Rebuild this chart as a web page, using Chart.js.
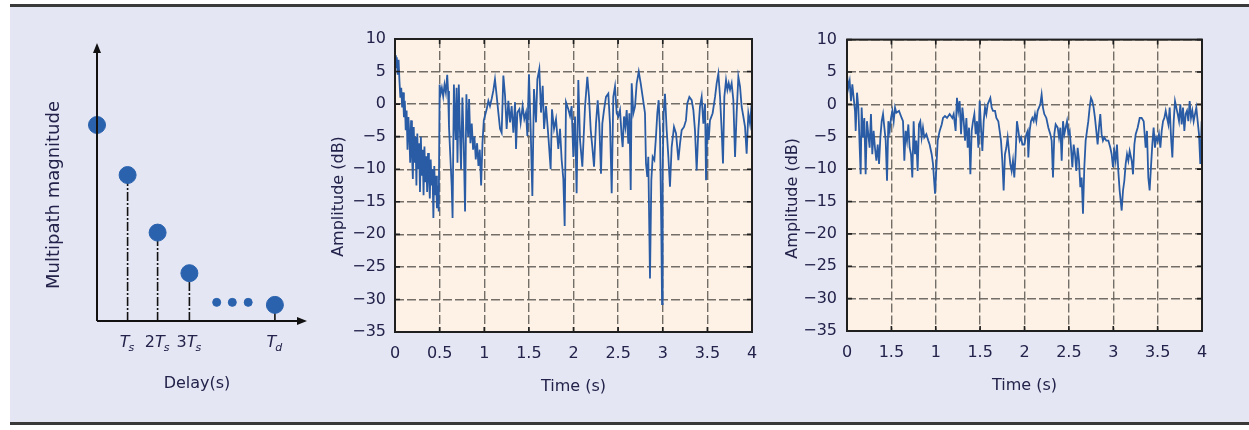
<!DOCTYPE html>
<html><head><meta charset="utf-8">
<script src="https://cdn.jsdelivr.net/npm/chart.js@4.4.0/dist/chart.umd.min.js"></script>
<style>
html,body{margin:0;padding:0;background:#fff;width:1249px;height:430px;overflow:hidden;}
#panel{position:absolute;left:10px;top:7px;width:1239px;height:415px;background:#E4E6F3;}
#topline{position:absolute;left:10px;top:4px;width:1239px;height:3px;background:#3a3a3a;}
#botline{position:absolute;left:10px;top:422px;width:1239px;height:3px;background:#3a3a3a;}
.box{position:absolute;}
</style></head><body>
<div id="topline"></div><div id="panel"></div><div id="botline"></div>
<div class="box" style="left:0;top:0;width:320px;height:430px"><canvas id="c0"></canvas></div>
<div class="box" style="left:320px;top:20px;width:440px;height:380px"><canvas id="c1"></canvas></div>
<div class="box" style="left:770px;top:20px;width:460px;height:380px"><canvas id="c2"></canvas></div>
<script>
// ---------- Left panel: multipath delay profile ----------
const delayPos = [0, 1.02, 2.02, 3.08, 5.93];
const delayMag = [7.05, 5.25, 3.18, 1.72, 0.58];
const delayTickText = [null, ['', 'T', 's'], ['2', 'T', 's'], ['3', 'T', 's'], ['', 'T', 'd']];
const ellipsisPos = [3.99, 4.51, 5.04];
const ellipsisMag = [0.67, 0.67, 0.67];

// ---------- Middle panel ----------
const midTime = [0.000,0.010,0.020,0.030,0.040,0.050,0.060,0.070,0.080,0.090,0.100,0.110,0.120,0.130,0.140,0.150,0.160,0.170,0.180,0.190,0.200,0.210,0.220,0.230,0.240,0.250,0.260,0.270,0.280,0.290,0.300,0.310,0.320,0.330,0.340,0.350,0.360,0.370,0.380,0.390,0.400,0.410,0.420,0.430,0.440,0.450,0.460,0.470,0.480,0.490,0.500,0.510,0.525,0.540,0.555,0.570,0.585,0.595,0.605,0.620,0.635,0.645,0.660,0.670,0.680,0.690,0.700,0.715,0.725,0.740,0.755,0.770,0.785,0.800,0.810,0.820,0.830,0.845,0.860,0.875,0.890,0.905,0.920,0.935,0.950,0.965,0.980,0.995,1.008,1.027,1.046,1.064,1.083,1.102,1.120,1.139,1.158,1.177,1.195,1.214,1.233,1.251,1.270,1.289,1.307,1.326,1.345,1.356,1.371,1.393,1.408,1.430,1.449,1.468,1.483,1.501,1.520,1.539,1.557,1.580,1.595,1.617,1.636,1.655,1.670,1.692,1.718,1.744,1.759,1.782,1.804,1.830,1.849,1.867,1.886,1.901,1.916,1.942,1.961,1.979,1.998,2.017,2.035,2.054,2.073,2.099,2.129,2.155,2.174,2.193,2.211,2.230,2.252,2.271,2.289,2.308,2.323,2.342,2.364,2.390,2.409,2.428,2.446,2.465,2.484,2.502,2.521,2.540,2.551,2.566,2.581,2.596,2.614,2.626,2.641,2.652,2.671,2.689,2.708,2.731,2.753,2.775,2.801,2.812,2.827,2.838,2.850,2.857,2.872,2.887,2.906,2.924,2.939,2.954,2.969,2.984,2.992,2.999,3.010,3.025,3.044,3.063,3.081,3.100,3.126,3.149,3.175,3.193,3.212,3.238,3.260,3.275,3.298,3.324,3.343,3.361,3.380,3.399,3.417,3.436,3.455,3.474,3.485,3.500,3.515,3.529,3.559,3.586,3.604,3.623,3.642,3.660,3.675,3.690,3.709,3.724,3.739,3.754,3.772,3.791,3.810,3.828,3.847,3.866,3.884,3.903,3.922,3.940,3.959,3.978,3.996];
const midAmp = [7.5,5.5,7.2,4.5,6.8,3.5,1.0,2.5,-0.5,1.8,-2.0,0.5,-4.0,-1.0,-7.0,-2.0,-4.5,-9.0,-2.5,-7.5,-11.5,-3.5,-9.0,-5.0,-12.5,-4.5,-10.0,-6.0,-13.5,-5.0,-11.0,-7.0,-14.0,-6.5,-12.0,-8.0,-13.5,-7.5,-11.0,-14.5,-8.5,-12.5,-10.0,-17.5,-9.5,-14.0,-11.0,-16.0,-12.5,-16.5,3.0,1.5,2.5,1.2,3.0,1.8,4.5,2.0,-3.5,-8.0,-12.5,-17.5,3.0,-2.0,-5.5,2.5,-9.0,3.0,-3.0,-10.0,1.0,-6.0,-16.5,1.5,-2.5,-5.0,0.8,-6.0,-3.0,-7.0,-5.0,-8.5,-6.0,-9.5,-7.0,-12.5,-6.0,-2.5,-1.8,-0.8,0.5,-0.3,0.8,2.1,3.8,1.3,-1.3,-3.8,-4.4,4.4,1.3,-3.8,0.5,-2.8,-0.3,-4.4,0.3,-6.9,-1.3,-0.8,-2.8,-0.3,-2.3,-1.3,-4.9,4.6,-3.8,-14.1,2.3,-2.8,3.8,5.4,-1.3,2.8,-3.8,-0.3,-4.9,-10.0,-0.8,-3.8,-2.3,-6.9,-3.8,-8.5,-11.5,-18.7,0.3,-0.8,-1.8,-0.3,-8.1,-1.9,-13.7,3.7,-5.5,-9.6,-0.4,4.2,1.1,-4.0,-6.6,-9.6,-3.0,0.6,-3.0,-10.7,-3.0,-0.9,1.1,1.6,-3.0,-13.7,1.1,2.7,-1.4,-1.9,-0.9,-5.0,-6.6,-1.9,-3.5,-0.9,-6.1,-1.4,-13.2,3.2,-1.4,-0.4,3.2,5.0,3.2,1.1,-1.4,-9.1,-11.2,-8.1,-19.9,-26.8,-11.7,-8.1,-8.6,-5.0,-1.4,0.6,-4.0,-19.4,-30.7,-10.2,-1.4,1.6,-4.0,-8.1,-12.7,-6.6,-3.5,-4.5,-8.6,-6.1,-4.0,-3.5,-2.5,0.1,1.1,0.6,-0.9,-4.0,-10.2,-4.0,-0.4,1.1,-3.0,0.1,-11.7,-3.0,-5.5,-2.5,-1.4,1.1,3.2,4.7,1.1,-4.0,-9.1,1.1,3.7,2.2,3.2,2.2,3.2,0.6,-8.1,-1.4,4.2,2.7,-0.4,-1.9,-3.5,-7.6,-1.4,-3.0,0.1];

// ---------- Right panel ----------
const rightTime = [0.000,0.015,0.030,0.045,0.060,0.075,0.090,0.098,0.113,0.128,0.143,0.154,0.165,0.180,0.195,0.210,0.225,0.240,0.255,0.270,0.285,0.300,0.315,0.331,0.346,0.361,0.376,0.391,0.406,0.421,0.436,0.451,0.466,0.481,0.496,0.511,0.526,0.541,0.556,0.586,0.616,0.631,0.646,0.661,0.676,0.691,0.706,0.721,0.736,0.751,0.766,0.781,0.796,0.811,0.826,0.841,0.856,0.871,0.894,0.916,0.931,0.954,0.969,0.992,1.007,1.022,1.044,1.067,1.082,1.104,1.127,1.157,1.187,1.202,1.224,1.239,1.254,1.269,1.285,1.300,1.315,1.330,1.345,1.360,1.375,1.390,1.405,1.420,1.435,1.450,1.465,1.480,1.495,1.510,1.525,1.540,1.555,1.570,1.585,1.600,1.615,1.630,1.645,1.668,1.683,1.705,1.720,1.735,1.750,1.765,1.780,1.795,1.810,1.825,1.840,1.855,1.870,1.885,1.900,1.915,1.931,1.946,1.961,1.976,1.998,2.021,2.036,2.043,2.058,2.073,2.088,2.103,2.118,2.133,2.148,2.163,2.178,2.193,2.208,2.223,2.246,2.269,2.291,2.306,2.321,2.336,2.351,2.374,2.389,2.404,2.419,2.434,2.449,2.464,2.479,2.494,2.509,2.524,2.539,2.554,2.569,2.584,2.599,2.614,2.629,2.644,2.659,2.674,2.689,2.704,2.719,2.734,2.749,2.764,2.779,2.794,2.809,2.824,2.839,2.854,2.869,2.884,2.899,2.922,2.945,2.967,2.982,2.997,3.012,3.027,3.042,3.057,3.072,3.095,3.110,3.125,3.140,3.155,3.170,3.185,3.208,3.223,3.238,3.253,3.275,3.298,3.320,3.343,3.365,3.380,3.395,3.410,3.425,3.440,3.455,3.470,3.485,3.500,3.515,3.531,3.546,3.561,3.576,3.591,3.606,3.621,3.636,3.651,3.666,3.681,3.696,3.711,3.726,3.741,3.756,3.771,3.786,3.801,3.816,3.831,3.846,3.861,3.876,3.891,3.906,3.921,3.936,3.951,3.966,3.981,3.996];
const rightAmp = [4.6,2.6,3.6,0.5,3.1,1.0,-1.0,-4.1,1.8,-0.5,-6.7,-10.8,-0.5,-5.1,-2.1,-10.8,-2.6,-4.6,-6.7,-1.5,-7.7,-4.1,-6.7,-8.7,-6.2,-9.2,-5.1,-2.6,-1.5,-3.6,-5.6,-11.8,-2.6,-4.1,-2.1,-1.0,-2.6,-0.5,-1.3,-1.0,-2.1,-2.6,-8.7,-4.1,-5.6,-3.1,-6.7,-7.7,-11.3,-2.6,-7.7,-5.6,-10.3,-3.1,-2.6,-5.1,-3.6,-5.1,-4.6,-5.6,-6.2,-7.7,-9.2,-13.8,-9.7,-5.6,-4.1,-3.1,-2.1,-1.8,-2.1,-1.5,-2.1,-1.5,-4.1,1.0,-1.0,0.5,-4.6,-0.5,-2.6,-5.6,-2.1,-6.7,-3.6,-10.8,-4.1,-2.6,-1.5,-4.6,-2.6,-6.7,0.5,-3.6,-7.2,-2.6,-0.5,-1.5,0.0,0.5,1.0,-0.5,-1.0,-1.0,-2.1,-2.6,-4.1,-5.6,-8.7,-13.3,-7.7,-6.7,-5.1,-7.2,-9.2,-10.3,-8.7,-11.3,-7.7,-2.6,-4.1,-5.6,-5.1,-6.2,-6.2,-4.6,-4.1,-8.2,-4.1,-2.6,-2.1,-2.6,-1.5,-2.6,-1.0,-0.5,0.0,1.5,-0.5,-1.5,-2.1,-3.6,-4.6,-5.6,-11.3,-4.6,-3.1,-3.6,-5.1,-3.6,-8.7,-2.6,-4.6,-3.6,-2.6,-4.6,-4.1,-6.7,-9.7,-6.2,-7.7,-10.3,-6.7,-8.7,-12.8,-11.3,-16.9,-9.7,-5.6,-4.1,-2.6,-0.5,1.0,0.5,-0.5,-2.1,-4.1,-6.2,-3.6,-1.5,-4.6,-5.6,-5.1,-5.6,-5.6,-6.7,-7.7,-9.7,-7.2,-8.7,-6.2,-10.3,-13.3,-16.4,-13.3,-11.8,-9.2,-7.7,-8.7,-7.2,-8.7,-10.8,-6.2,-4.6,-3.6,-2.1,-2.1,-2.6,-6.7,-4.1,-11.3,-13.3,-9.7,-6.2,-3.6,-6.7,-5.1,-5.6,-4.6,-6.7,-4.1,-2.6,-2.1,-1.0,-2.1,-3.1,-0.5,-5.1,-8.2,-2.6,0.5,-0.5,-1.5,-2.6,0.0,-3.1,-0.5,-4.1,-1.5,-1.0,-2.6,0.5,-2.1,-1.0,-2.6,-1.5,-0.5,-2.6,-4.6,-9.2,-2.6];

const midXTickLabels = ['0','0.5','1','1.5','2','2.5','3','3.5','4'];
const rightXTickLabels = ['0','1.5','1','1.5','2','2.5','3','3.5','4'];
const yTickLabels = ['\u221235','\u221230','\u221225','\u221220','\u221215','\u221210','\u22125','0','5','10'];

const FONT = "'DejaVu Sans', 'Open Sans', sans-serif";
const TXT = '#22224a';
const LINE = '#2A5CA6';

const framePlugin = {
  id: 'plotFrame',
  beforeDraw(chart, args, o) {
    const a = chart.chartArea, ctx = chart.ctx;
    ctx.save(); ctx.fillStyle = o.bg;
    ctx.fillRect(a.left, a.top, a.right - a.left, a.bottom - a.top);
    ctx.restore();
  },
  afterDraw(chart, args, o) {
    const a = chart.chartArea, ctx = chart.ctx, xs = chart.scales.x, ys = chart.scales.y;
    ctx.save();
    ctx.strokeStyle = o.frame; ctx.lineWidth = 1.6;
    ctx.beginPath();
    xs.ticks.forEach(t => { const p = xs.getPixelForValue(t.value);
      ctx.moveTo(p, a.bottom); ctx.lineTo(p, a.bottom - 5); ctx.moveTo(p, a.top); ctx.lineTo(p, a.top + 5); });
    ys.ticks.forEach(t => { const p = ys.getPixelForValue(t.value);
      ctx.moveTo(a.left, p); ctx.lineTo(a.left + 5, p); ctx.moveTo(a.right, p); ctx.lineTo(a.right - 5, p); });
    ctx.stroke();
    ctx.lineWidth = 2;
    ctx.strokeRect(a.left, a.top, a.right - a.left, a.bottom - a.top);
    // y axis title
    ctx.fillStyle = TXT; ctx.font = `16px ${FONT}`;
    ctx.textAlign = 'center'; ctx.textBaseline = 'middle';
    ctx.translate(o.titleX, (a.top + a.bottom) / 2 + o.titleShift);
    ctx.rotate(-Math.PI / 2);
    ctx.fillText(o.yTitle, 0, 0);
    ctx.restore();
  }
};

function ampChart(id, times, amps, xLabels, lay) {
  return new Chart(document.getElementById(id), {
    type: 'line',
    data: { datasets: [{ data: times.map((t, i) => ({ x: t, y: amps[i] })),
      borderColor: LINE, borderWidth: 1.8, pointRadius: 0, tension: 0, fill: false }] },
    plugins: [framePlugin],
    options: {
      responsive: true, maintainAspectRatio: false, animation: false, parsing: false,
      layout: { padding: { left: 0, top: lay.top, right: lay.right, bottom: 0 } },
      plugins: { legend: { display: false }, tooltip: { enabled: false },
        plotFrame: { bg: '#FDF2E5', frame: '#1f1f1f', yTitle: 'Amplitude (dB)', titleX: lay.tx, titleShift: lay.ts } },
      scales: {
        x: { type: 'linear', min: 0, max: 4,
          afterFit(s) { s.height = lay.xh; s.paddingLeft = 0; s.paddingRight = 0; },
          ticks: { stepSize: 0.5, autoSkip: false, maxRotation: 0, padding: lay.xpad,
            color: TXT, font: { family: FONT, size: 16 },
            callback: (v, i) => xLabels[i] },
          grid: { color: 'rgba(100,95,90,0.9)', lineWidth: 1.4, drawTicks: false },
          border: { display: false, dash: [9, 3] },
          title: { display: true, text: 'Time (s)', color: TXT, font: { family: FONT, size: 16 },
            padding: { top: 0, bottom: lay.xtp } } },
        y: { type: 'linear', min: -35, max: 10,
          afterFit(s) { s.width = lay.yw; },
          ticks: { stepSize: 5, padding: lay.ypad, color: TXT, font: { family: FONT, size: 16 },
            callback: (v, i) => yTickLabels[i] },
          grid: { color: 'rgba(100,95,90,0.9)', lineWidth: 1.4, drawTicks: false },
          border: { display: false, dash: [9, 3] },
          title: { display: false } }
      }
    }
  });
}

ampChart('c1', midTime, midAmp, midXTickLabels, { top: 19, right: 8, xh: 68, yw: 75, xpad: 12, ypad: 9, xtp: 4, tx: 19, ts: 11 });
ampChart('c2', rightTime, rightAmp, rightXTickLabels, { top: 19, right: 28, xh: 69, yw: 77, xpad: 12, ypad: 10, xtp: 5, tx: 22.5, ts: 13 });

// ---------- Left chart ----------
const delayPlugin = {
  id: 'delayAxes',
  afterDraw(chart) {
    const ctx = chart.ctx, xs = chart.scales.x, ys = chart.scales.y;
    const x0 = xs.getPixelForValue(0), y0 = ys.getPixelForValue(0);
    const xe = xs.getPixelForValue(xs.max), ye = ys.getPixelForValue(ys.max);
    ctx.save();
    ctx.strokeStyle = '#111'; ctx.fillStyle = '#111'; ctx.lineWidth = 2;
    ctx.beginPath(); ctx.moveTo(x0, y0); ctx.lineTo(x0, ye + 6); ctx.moveTo(x0, y0); ctx.lineTo(xe - 6, y0); ctx.stroke();
    ctx.beginPath(); ctx.moveTo(x0, ye); ctx.lineTo(x0 - 4, ye + 10); ctx.lineTo(x0 + 4, ye + 10); ctx.closePath(); ctx.fill();
    ctx.beginPath(); ctx.moveTo(xe, y0); ctx.lineTo(xe - 10, y0 - 4); ctx.lineTo(xe - 10, y0 + 4); ctx.closePath(); ctx.fill();
    // tick labels with subscripts
    ctx.fillStyle = TXT; ctx.textBaseline = 'middle';
    delayPos.forEach((p, i) => {
      const parts = delayTickText[i]; if (!parts) return;
      const cx = xs.getPixelForValue(p), cy = y0 + 22;
      const fN = `16px ${FONT}`, fI = `italic 16px ${FONT}`, fS = `italic 11px ${FONT}`;
      ctx.font = fN; const w0 = ctx.measureText(parts[0]).width;
      ctx.font = fI; const w1 = ctx.measureText(parts[1]).width;
      ctx.font = fS; const w2 = ctx.measureText(parts[2]).width;
      let x = cx - (w0 + w1 + w2) / 2;
      ctx.textAlign = 'left';
      ctx.font = fN; ctx.fillText(parts[0], x, cy); x += w0;
      ctx.font = fI; ctx.fillText(parts[1], x, cy); x += w1 - 1;
      ctx.font = fS; ctx.fillText(parts[2], x, cy + 5);
    });
    ctx.textAlign = 'center';
    ctx.font = `16px ${FONT}`;
    ctx.fillText('Delay(s)', x0 + 100, y0 + 63);
    ctx.font = `18px ${FONT}`;
    ctx.translate(x0 - 43, (y0 + ye) / 2 + 13);
    ctx.rotate(-Math.PI / 2);
    ctx.fillText('Multipath magnitude', 0, 0);
    ctx.restore();
  }
};

const stemSets = delayPos.slice(1).map((p, i) => ({
  type: 'line', data: [{ x: p, y: 0 }, { x: p, y: delayMag[i + 1] }],
  borderColor: '#111', borderWidth: 1.6, borderDash: [9, 2, 2, 2], pointRadius: 0, clip: false, order: 2
}));

new Chart(document.getElementById('c0'), {
  type: 'scatter',
  data: { datasets: [
    ...stemSets,
    { data: delayPos.map((p, i) => ({ x: p, y: delayMag[i] })), backgroundColor: '#2A62AE',
      borderColor: '#2A62AE', pointRadius: 8.5, clip: false, order: 1 },
    { data: ellipsisPos.map((p, i) => ({ x: p, y: ellipsisMag[i] })), backgroundColor: '#2A62AE',
      borderColor: '#2A62AE', pointRadius: 4, clip: false, order: 1 }
  ] },
  plugins: [delayPlugin],
  options: {
    responsive: true, maintainAspectRatio: false, animation: false,
    layout: { padding: { left: 97, right: 13, top: 43, bottom: 109 } },
    plugins: { legend: { display: false }, tooltip: { enabled: false } },
    scales: { x: { type: 'linear', min: 0, max: 7, display: false },
              y: { type: 'linear', min: 0, max: 10, display: false } }
  }
});
</script>
</body></html>
